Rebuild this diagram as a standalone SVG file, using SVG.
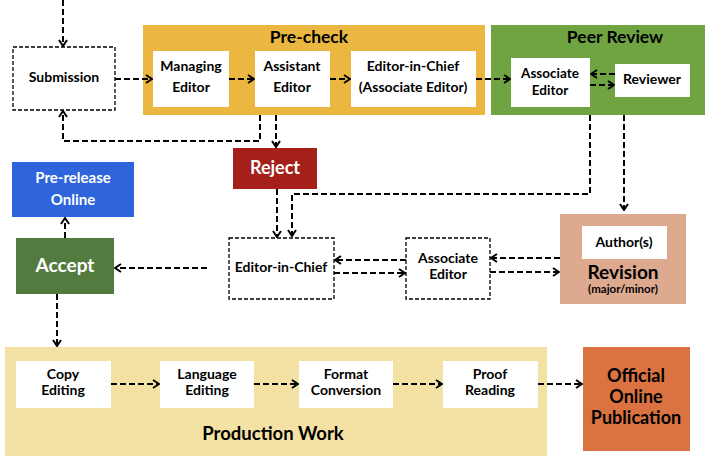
<svg xmlns="http://www.w3.org/2000/svg" width="723" height="471" viewBox="0 0 723 471">
<style>
text{font-family:Lato,"Liberation Sans",sans-serif;font-weight:bold;text-anchor:middle;fill:#000}
.t13{font-size:14px}
.t17{font-size:17.5px}
.t19{font-size:19px}
.w{fill:#fff}
.box{fill:#fff}
.dbox{fill:#fff;stroke:#000;stroke-width:1.3;stroke-dasharray:4 2}
.c{fill:none;stroke:#000;stroke-width:2;stroke-dasharray:6 3;marker-end:url(#arr)}
</style>
<defs>
<marker id="arr" viewBox="0 0 8 10" markerWidth="8" markerHeight="10" refX="7" refY="5" orient="auto" markerUnits="userSpaceOnUse">
<path d="M1,1 L7,5 L1,9" fill="none" stroke="#000" stroke-width="2" stroke-dasharray="none"/>
</marker>
</defs>
<rect width="723" height="471" fill="#fff"/>
<g id="precheck">
<rect x="143" y="25" width="342" height="90" fill="#EBB740"/>
<text class="t17" x="309" y="43">Pre-check</text>
</g>
<g id="peerreview">
<rect x="491" y="25" width="214" height="90" fill="#70A443"/>
<text class="t17" x="615" y="43">Peer Review</text>
</g>
<g id="production">
<rect x="5" y="347" width="542" height="109" fill="#F4E2A5"/>
<text x="273" y="440" style="font-size:18.5px">Production Work</text>
</g>
<g id="submission">
<rect class="dbox" x="13" y="47" width="102" height="63"/>
<text class="t13" x="64" y="82">Submission</text>
</g>
<g id="managing">
<rect class="box" x="153" y="51" width="76" height="56"/>
<text class="t13" x="191" y="71">Managing</text>
<text class="t13" x="191" y="92">Editor</text>
</g>
<g id="assistant">
<rect class="box" x="255" y="51" width="75" height="56"/>
<text class="t13" x="292" y="71">Assistant</text>
<text class="t13" x="292" y="92">Editor</text>
</g>
<g id="eic-pre">
<rect class="box" x="351" y="51" width="125" height="56"/>
<text class="t13" x="413" y="71">Editor-in-Chief</text>
<text class="t13" x="413" y="92">(Associate Editor)</text>
</g>
<g id="ae-peer">
<rect class="box" x="511" y="58" width="79" height="49"/>
<text x="550" y="78" style="font-size:13.5px">Associate</text>
<text x="550" y="94.5" style="font-size:13.5px">Editor</text>
</g>
<g id="reviewer">
<rect class="box" x="615" y="64" width="75" height="33"/>
<text class="t13" x="652" y="84">Reviewer</text>
</g>
<g id="reject">
<rect x="233" y="148" width="84" height="41" fill="#A51F1B"/>
<text class="w" x="275" y="174" style="font-size:18px">Reject</text>
</g>
<g id="prerelease">
<rect x="12" y="162" width="122" height="55" fill="#2E65DB"/>
<text class="w" x="73" y="183" style="font-size:15px">Pre-release</text>
<text class="w" x="73" y="205" style="font-size:15px">Online</text>
</g>
<g id="accept">
<rect x="16" y="238" width="98" height="56" fill="#547B3F"/>
<text class="t19 w" x="65" y="272">Accept</text>
</g>
<g id="eic-low">
<rect class="dbox" x="229" y="238" width="105" height="61"/>
<text class="t13" x="281" y="272">Editor-in-Chief</text>
</g>
<g id="ae-low">
<rect class="dbox" x="406" y="238" width="84" height="61"/>
<text class="t13" x="448" y="263">Associate</text>
<text class="t13" x="448" y="279">Editor</text>
</g>
<g id="revision">
<rect x="560" y="214" width="126" height="90" fill="#DDA98F"/>
<rect class="box" x="582" y="226" width="85" height="33"/>
<text class="t13" x="624" y="247">Author(s)</text>
<text class="t19" x="623" y="279">Revision</text>
<text x="623" y="293" style="font-size:11.5px">(major/minor)</text>
</g>
<g id="copy">
<rect class="box" x="16" y="361" width="95" height="47"/>
<text class="t13" x="63" y="379">Copy</text>
<text class="t13" x="63" y="395">Editing</text>
</g>
<g id="language">
<rect class="box" x="160" y="361" width="94" height="47"/>
<text class="t13" x="207" y="379">Language</text>
<text class="t13" x="207" y="395">Editing</text>
</g>
<g id="format">
<rect class="box" x="299" y="361" width="94" height="47"/>
<text class="t13" x="346" y="379">Format</text>
<text class="t13" x="346" y="395">Conversion</text>
</g>
<g id="proof">
<rect class="box" x="443" y="361" width="95" height="47"/>
<text class="t13" x="490" y="379">Proof</text>
<text class="t13" x="490" y="395">Reading</text>
</g>
<g id="official">
<rect x="583" y="347" width="107" height="104" fill="#DA7341"/>
<text x="636" y="382" style="font-size:18px">Official</text>
<text x="636" y="403" style="font-size:18px">Online</text>
<text x="636" y="424" style="font-size:18px">Publication</text>
</g>
<g id="connectors">
<path class="c" d="M63,0 V46"/>
<path class="c" d="M115,79 H152"/>
<path class="c" d="M229,79 H254"/>
<path class="c" d="M330,79 H350"/>
<path class="c" d="M476,79 H510"/>
<path class="c" d="M615,74 H591"/>
<path class="c" d="M590,85 H614"/>
<path class="c" d="M260,115 V141 H63 V111"/>
<path class="c" d="M276,115 V147"/>
<path class="c" d="M277,189 V237"/>
<path class="c" d="M590,115 V194 H292 V236"/>
<path class="c" d="M624,115 V210"/>
<path class="c" d="M406,260 H335"/>
<path class="c" d="M334,273 H405"/>
<path class="c" d="M560,258 H491"/>
<path class="c" d="M490,272 H559"/>
<path class="c" d="M207,268 H115"/>
<path class="c" d="M65,238 V218"/>
<path class="c" d="M57,294 V346"/>
<path class="c" d="M111,384 H159"/>
<path class="c" d="M254,384 H298"/>
<path class="c" d="M393,384 H442"/>
<path class="c" d="M538,384 H582"/>
</g>
</svg>
